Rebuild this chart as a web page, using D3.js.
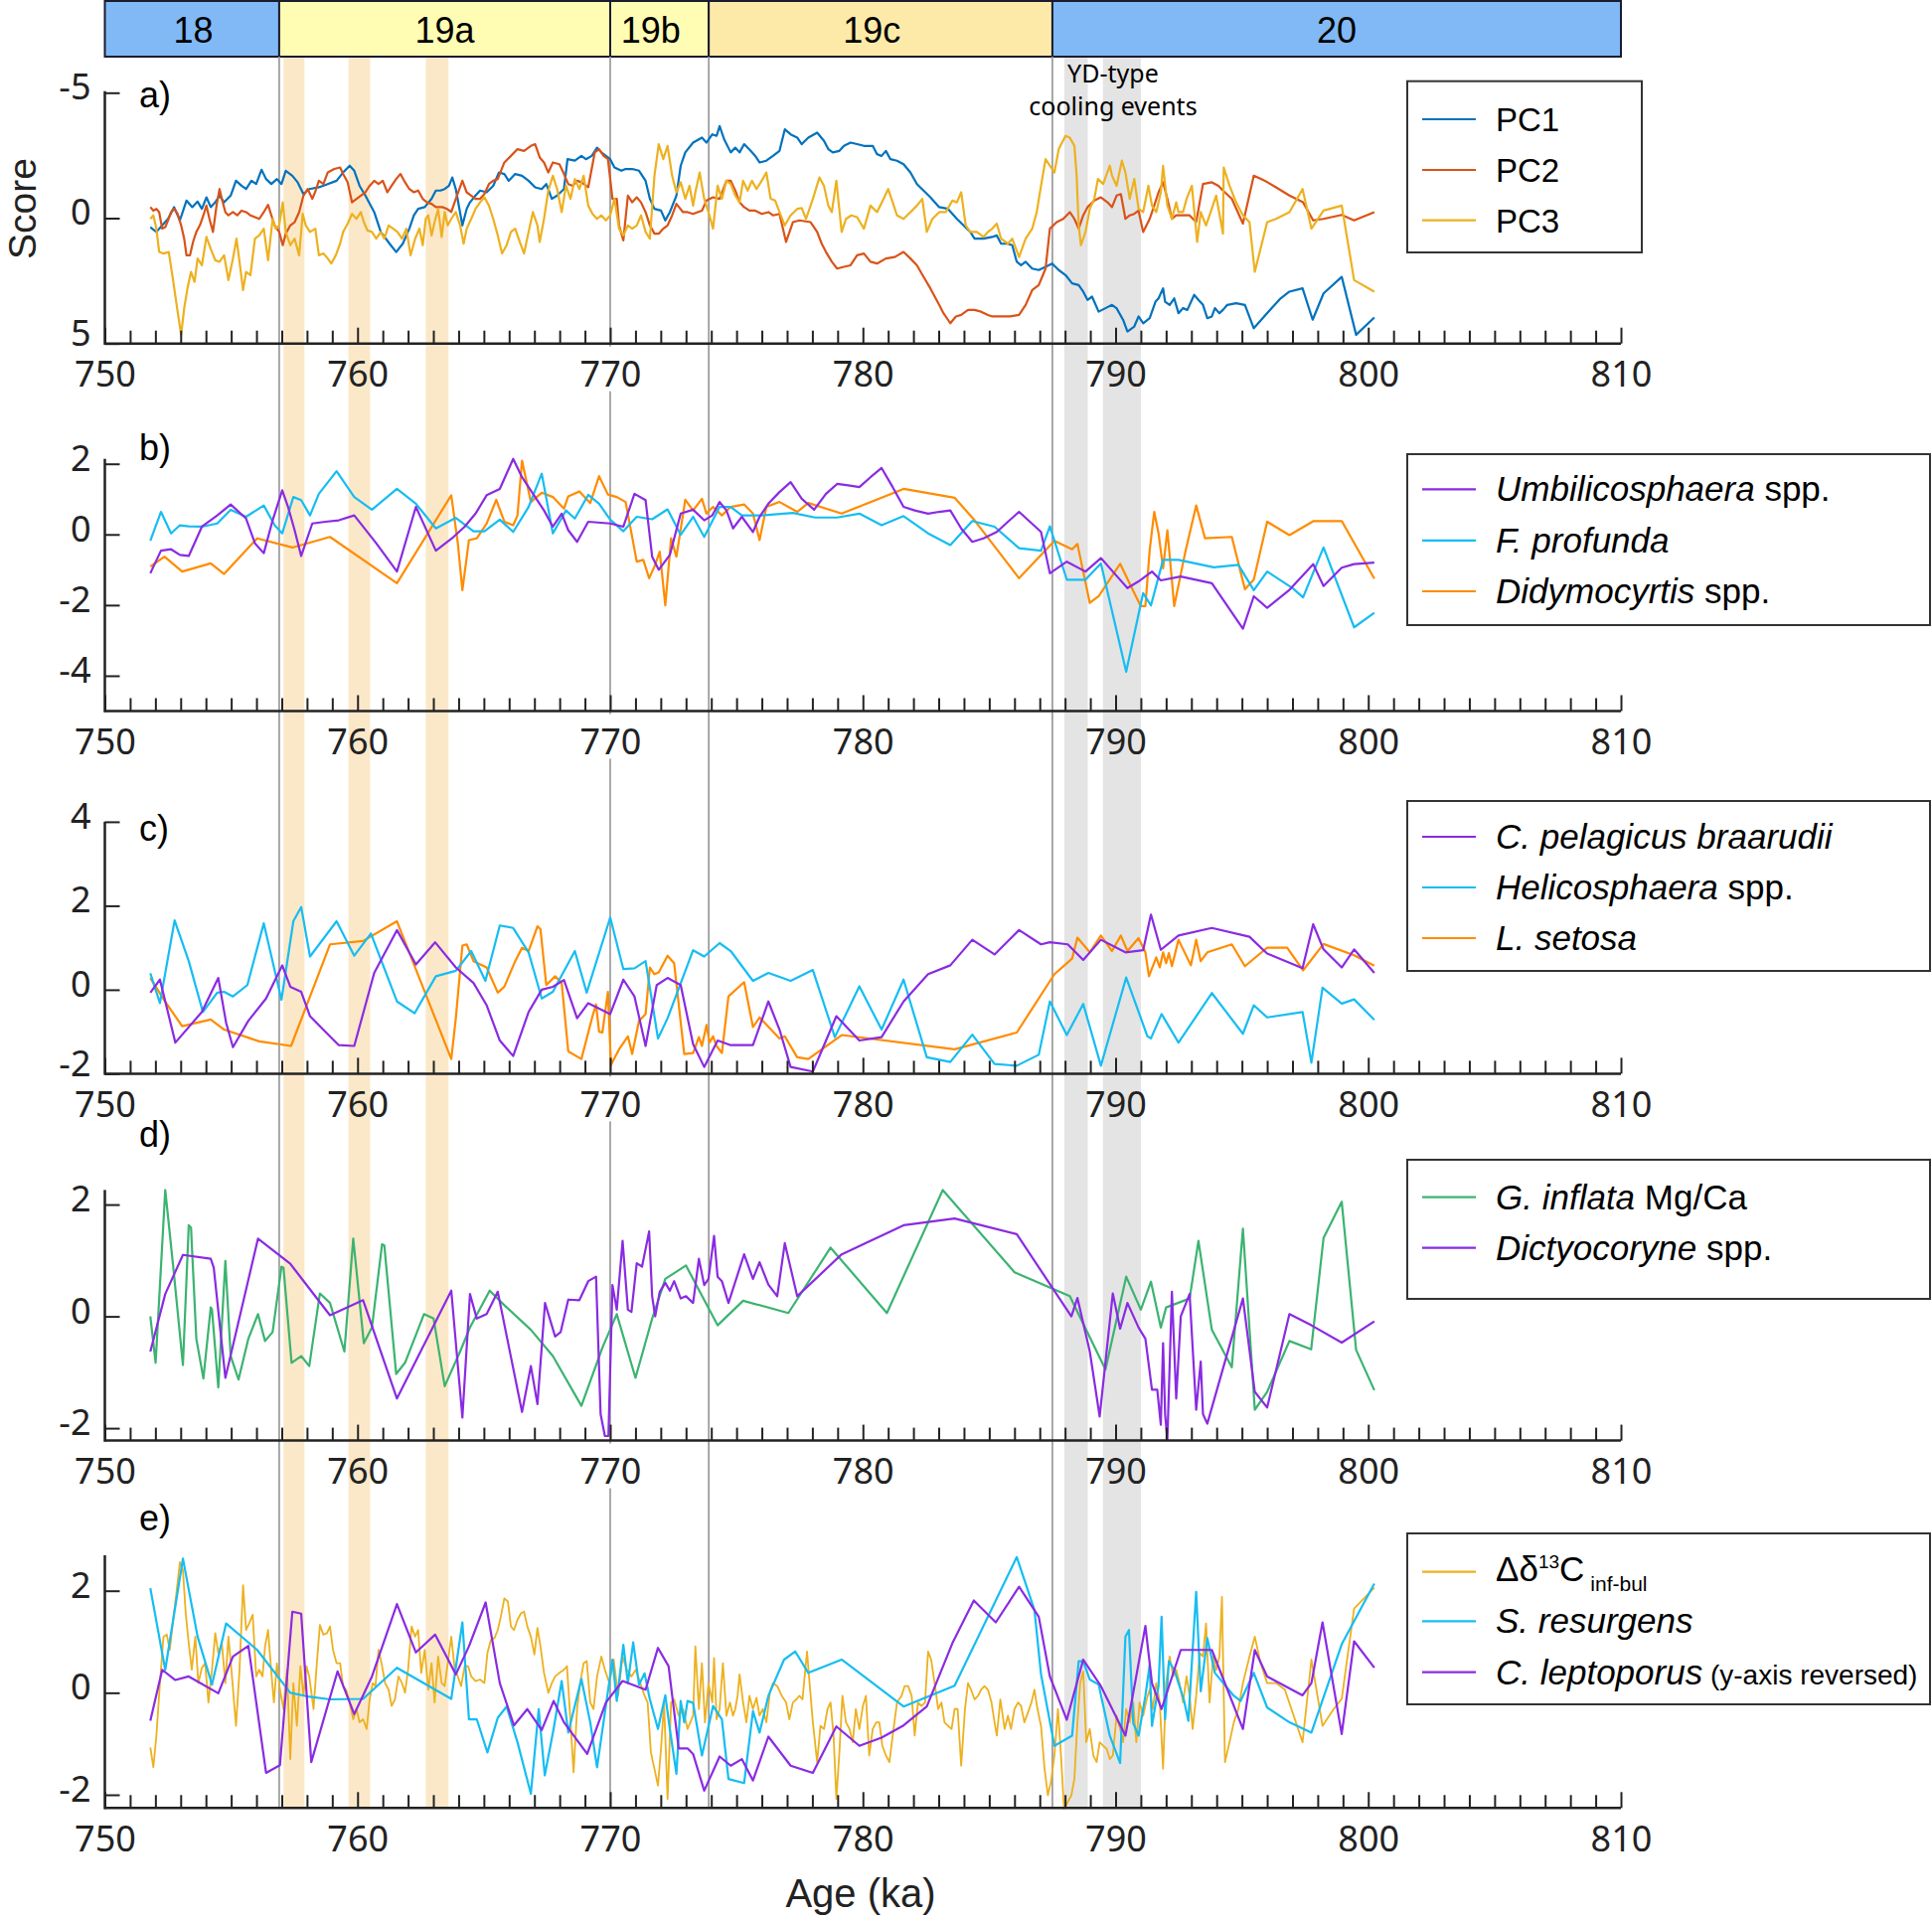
<!DOCTYPE html>
<html><head><meta charset="utf-8">
<script src="https://cdn.jsdelivr.net/npm/d3@7"></script>
<style>body{margin:0;background:#fff}svg{display:block}</style>
</head><body>
<svg id="chart" width="1944" height="1930"></svg>
<script>
// ---------------- DATA ----------------
const stageNames = ["18","19a","19b","19c","20"];
const stageFrom = [750, 756.9, 770.0, 773.9, 787.5];
const stageTo = [756.9, 770.0, 773.9, 787.5, 810];
const stageTextAt = [753.5, 763.45, 771.6, 780.35, 798.75];
const boundaryAges = [756.9, 770.0, 773.9, 787.5];
const warmBands = [[757.07,757.9],[759.64,760.5],[762.7,763.6]];
const coolBands = [[787.97,788.9],[789.5,791.0]];
const xMajorTicks = [750,760,770,780,790,800,810];

const pc1 = [[751.80,0.36],[752.04,0.55],[752.27,0.29],[752.50,0.03],[752.74,-0.44],[752.97,0.09],[753.23,-0.70],[753.46,-0.44],[753.67,-0.66],[753.84,-0.37],[754.02,-0.83],[754.19,-0.44],[754.37,-0.63],[754.54,-0.90],[754.72,-0.63],[754.98,-0.90],[755.19,-1.49],[755.41,-1.29],[755.59,-1.16],[755.80,-1.49],[755.99,-1.36],[756.20,-1.93],[756.38,-1.56],[756.59,-1.36],[756.81,-1.56],[756.99,-1.36],[757.16,-1.89],[757.42,-1.69],[757.63,-1.43],[757.86,-0.96],[758.09,-1.16],[758.47,-1.23],[758.82,-1.36],[759.17,-1.49],[759.43,-1.82],[759.69,-2.09],[759.87,-1.89],[760.08,-1.29],[760.31,-0.90],[760.66,-0.24],[760.92,0.55],[761.27,1.02],[761.53,1.35],[761.79,1.02],[762.05,0.42],[762.23,-0.11],[762.40,-0.37],[762.66,-0.44],[762.93,-0.77],[763.10,-1.10],[763.28,-1.10],[763.45,-1.16],[763.62,-1.29],[763.75,-1.62],[763.89,-1.16],[764.15,0.29],[764.32,-0.37],[764.45,-0.63],[764.67,-0.90],[764.85,-1.10],[765.11,-1.03],[765.37,-1.29],[765.60,-1.82],[765.81,-1.76],[765.98,-1.49],[766.24,-1.76],[766.51,-1.69],[766.77,-1.49],[767.03,-1.23],[767.29,-1.16],[767.47,-1.36],[767.69,-0.77],[767.90,-0.90],[768.17,-1.16],[768.31,-2.35],[768.60,-2.29],[768.86,-2.48],[769.04,-2.35],[769.27,-2.48],[769.48,-2.81],[769.65,-2.62],[769.83,-2.48],[770.00,-2.35],[770.17,-2.02],[770.44,-1.89],[770.61,-1.96],[770.87,-1.96],[771.14,-1.89],[771.40,-1.49],[771.57,-0.77],[771.75,-0.37],[772.01,-0.30],[772.18,0.09],[772.36,-0.24],[772.62,-0.90],[772.79,-2.09],[772.97,-2.62],[773.28,-3.01],[773.63,-3.21],[773.81,-3.01],[774.04,-3.34],[774.21,-3.28],[774.33,-3.67],[774.51,-3.14],[774.77,-2.62],[774.95,-2.81],[775.12,-2.62],[775.30,-2.95],[775.56,-2.68],[775.74,-2.48],[775.91,-2.22],[776.18,-2.29],[776.44,-2.48],[776.70,-2.68],[776.91,-3.54],[777.14,-3.34],[777.40,-3.21],[777.58,-2.95],[777.84,-3.21],[778.19,-3.41],[778.46,-3.08],[778.63,-2.75],[778.81,-2.62],[779.07,-2.68],[779.25,-2.88],[779.51,-3.01],[779.77,-2.95],[780.04,-2.88],[780.39,-2.88],[780.56,-2.55],[780.74,-2.48],[780.91,-2.68],[781.09,-2.35],[781.35,-2.29],[781.61,-2.15],[781.88,-1.82],[782.14,-1.36],[782.40,-1.10],[782.67,-0.83],[783.02,-0.44],[783.37,-0.37],[783.72,0.03],[783.98,0.29],[784.25,0.55],[784.42,0.82],[784.77,0.82],[785.12,0.75],[785.30,0.69],[785.47,1.02],[785.74,1.02],[785.91,1.08],[786.09,1.74],[786.26,1.88],[786.44,1.74],[786.70,2.01],[786.96,2.07],[787.23,1.94],[787.49,1.81],[787.75,2.07],[788.02,2.27],[788.28,2.60],[788.54,2.67],[788.72,2.93],[788.89,3.26],[789.07,3.13],[789.33,3.73],[789.60,3.59],[789.86,3.46],[790.04,3.59],[790.30,4.06],[790.47,4.52],[790.74,4.32],[790.91,3.92],[791.09,4.19],[791.35,3.99],[791.58,3.33],[791.70,3.20],[791.88,2.80],[791.96,3.33],[792.14,3.46],[792.32,3.20],[792.49,3.79],[792.67,3.59],[792.84,3.66],[793.11,3.06],[793.28,3.26],[793.46,3.46],[793.63,3.99],[793.81,3.92],[793.93,3.59],[794.11,3.79],[794.25,3.66],[794.42,3.46],[794.77,3.39],[795.12,3.46],[795.47,4.39],[795.82,3.99],[796.18,3.59],[796.53,3.20],[796.88,2.93],[797.40,2.80],[797.80,4.05],[798.23,3.00],[798.95,2.34],[799.52,4.65],[800.24,3.96]];

const pc2 = [[751.80,-0.44],[751.92,-0.30],[752.04,-0.37],[752.15,-0.24],[752.27,0.42],[752.39,0.36],[752.50,0.09],[752.62,-0.24],[752.74,-0.37],[752.88,-0.17],[753.02,0.29],[753.14,0.82],[753.23,1.48],[753.37,1.48],[753.49,0.95],[753.62,0.55],[753.76,0.29],[753.90,-0.11],[754.02,-0.50],[754.14,0.03],[754.28,0.55],[754.42,-0.50],[754.54,-1.16],[754.63,-0.77],[754.77,-0.24],[754.89,-0.11],[755.07,-0.24],[755.24,-0.11],[755.41,-0.30],[755.59,-0.24],[755.76,-0.11],[755.94,-0.04],[756.11,0.03],[756.29,-0.24],[756.46,-0.53],[756.59,-0.11],[756.72,0.29],[756.90,0.55],[757.04,1.08],[757.16,0.62],[757.34,0.29],[757.51,0.16],[757.69,-0.24],[757.86,-0.90],[758.03,-1.16],[758.21,-0.77],[758.33,-1.06],[758.47,-1.49],[758.65,-1.36],[758.82,-1.82],[759.08,-1.96],[759.31,-2.02],[759.43,-1.76],[759.61,-1.43],[759.78,-0.63],[759.96,-0.77],[760.13,-0.90],[760.31,-1.03],[760.48,-1.29],[760.66,-1.49],[760.83,-1.36],[761.00,-1.49],[761.18,-1.03],[761.35,-1.29],[761.53,-1.56],[761.70,-1.76],[761.88,-1.43],[762.05,-1.16],[762.23,-1.03],[762.40,-1.10],[762.58,-0.77],[762.75,-0.63],[762.93,-0.57],[763.10,-0.44],[763.36,-0.44],[763.54,-0.37],[763.71,-0.24],[763.89,-0.77],[764.15,-1.49],[764.32,-1.03],[764.50,-0.90],[764.67,-0.77],[764.85,-0.77],[765.02,-0.96],[765.20,-1.36],[765.37,-1.49],[765.55,-1.56],[765.81,-2.22],[766.07,-2.48],[766.33,-2.75],[766.59,-2.68],[766.86,-2.88],[767.03,-2.95],[767.21,-2.42],[767.38,-2.22],[767.55,-1.82],[767.73,-2.22],[767.99,-2.15],[768.17,-1.76],[768.34,-1.36],[768.52,-1.29],[768.69,-1.49],[768.86,-1.43],[769.13,-1.23],[769.39,-2.62],[769.56,-2.75],[769.74,-2.48],[769.91,-2.35],[770.09,-0.77],[770.26,-0.77],[770.35,0.29],[770.52,0.89],[770.70,-0.90],[770.87,-0.63],[771.05,-0.83],[771.22,-0.63],[771.40,-0.24],[771.57,0.29],[771.75,0.62],[771.92,0.62],[772.10,0.42],[772.27,0.29],[772.45,-0.11],[772.62,-0.57],[772.88,-0.24],[773.06,-0.24],[773.28,-0.17],[773.46,-0.24],[773.63,-0.30],[773.81,-0.70],[774.07,-0.83],[774.33,-0.77],[774.60,-1.49],[774.77,-1.49],[774.95,-1.10],[775.12,-0.63],[775.30,-0.44],[775.51,-0.30],[775.74,-0.30],[776.00,-0.17],[776.26,-0.24],[776.44,-0.11],[776.70,-0.17],[776.96,0.95],[777.23,0.16],[777.49,0.09],[777.93,0.16],[778.19,0.55],[778.37,1.02],[778.54,1.35],[778.77,1.74],[778.98,2.01],[779.25,1.94],[779.51,1.88],[779.77,1.48],[780.04,1.41],[780.30,1.74],[780.56,1.81],[780.91,1.61],[781.26,1.55],[781.61,1.35],[781.88,1.61],[782.14,1.88],[782.40,2.34],[782.67,2.80],[783.02,3.46],[783.19,3.79],[783.46,4.19],[783.68,3.92],[783.89,3.86],[784.16,3.66],[784.42,3.66],[784.68,3.73],[784.95,3.86],[785.12,3.92],[785.47,3.92],[785.82,3.92],[786.18,3.86],[786.44,3.46],[786.70,2.87],[786.96,2.67],[787.23,2.01],[787.40,0.42],[787.67,0.16],[787.93,0.03],[788.19,-0.24],[788.37,0.03],[788.54,0.42],[788.72,-0.11],[788.89,-0.44],[789.16,-0.70],[789.42,-0.83],[789.68,-0.63],[789.86,-0.44],[790.04,-0.90],[790.21,-0.96],[790.39,0.03],[790.56,-0.11],[790.74,-0.17],[790.91,-0.30],[791.09,0.55],[791.35,0.03],[791.53,-0.50],[791.70,-1.03],[791.88,-1.43],[792.05,-0.77],[792.23,0.03],[792.40,-0.11],[792.67,-0.11],[792.93,-0.11],[793.19,0.16],[793.46,-1.36],[793.81,-1.43],[794.07,-1.29],[794.25,-1.10],[794.60,-0.77],[795.04,0.22],[795.47,-1.69],[795.91,-1.49],[796.35,-1.23],[796.88,-0.90],[797.42,-0.63],[797.82,0.09],[798.23,0.03],[798.95,-0.13],[799.44,0.09],[800.24,-0.24]];

const pc3 = [[751.80,0.03],[751.92,-0.11],[752.04,0.42],[752.15,1.35],[752.32,1.41],[752.53,1.35],[752.71,2.54],[752.88,3.73],[753.02,4.65],[753.14,3.59],[753.27,2.80],[753.41,2.14],[753.55,2.54],[753.67,1.61],[753.84,1.88],[754.02,0.75],[754.19,1.22],[754.37,1.68],[754.54,1.74],[754.72,1.48],[754.89,2.47],[755.07,1.61],[755.21,0.82],[755.33,1.74],[755.47,2.87],[755.59,2.14],[755.76,2.27],[755.94,0.82],[756.11,0.69],[756.29,0.42],[756.46,1.68],[756.64,0.03],[756.76,0.42],[756.90,0.29],[757.04,-0.63],[757.16,0.55],[757.34,1.08],[757.51,0.82],[757.69,1.48],[757.83,-0.17],[757.95,0.29],[758.12,0.55],[758.33,0.42],[758.47,1.48],[758.65,1.41],[758.82,1.61],[758.96,1.81],[759.14,1.48],[759.31,1.02],[759.43,0.55],[759.61,0.22],[759.78,-0.17],[759.96,0.03],[760.13,-0.24],[760.25,0.16],[760.39,0.49],[760.57,0.55],[760.74,0.82],[760.92,0.55],[761.06,0.82],[761.23,0.29],[761.41,0.42],[761.58,0.55],[761.76,0.82],[761.93,0.42],[762.10,1.48],[762.28,0.82],[762.45,0.42],[762.58,1.08],[762.70,0.03],[762.80,-0.11],[762.93,0.69],[763.05,0.16],[763.19,-0.37],[763.33,0.75],[763.45,-0.24],[763.57,0.29],[763.71,0.03],[763.89,-0.24],[764.06,0.29],[764.20,1.02],[764.32,0.42],[764.50,0.03],[764.67,-0.37],[764.85,-0.63],[765.02,-0.83],[765.20,-0.50],[765.37,0.03],[765.55,0.69],[765.72,1.41],[765.90,1.08],[766.07,0.55],[766.24,0.42],[766.42,0.95],[766.59,1.41],[766.77,0.55],[766.94,-0.24],[767.12,0.29],[767.21,0.95],[767.38,0.03],[767.55,-1.10],[767.73,-1.69],[767.90,-1.16],[768.08,-0.24],[768.25,-1.29],[768.43,-0.77],[768.60,-1.56],[768.78,-1.16],[768.95,-1.69],[769.13,-0.50],[769.30,-0.17],[769.48,0.03],[769.65,-0.11],[769.83,0.09],[770.00,-0.11],[770.17,-0.77],[770.35,0.42],[770.52,0.69],[770.70,0.29],[770.87,0.42],[771.05,0.29],[771.22,-0.11],[771.40,0.55],[771.57,0.82],[771.75,-1.69],[771.92,-2.95],[772.10,-2.35],[772.27,-2.88],[772.45,-1.69],[772.62,-1.03],[772.79,-1.43],[772.97,-0.77],[773.14,-1.29],[773.28,-0.50],[773.37,-1.03],[773.54,-1.82],[773.72,-0.77],[773.89,-0.24],[774.07,0.42],[774.25,-1.29],[774.42,-0.77],[774.60,-1.49],[774.77,-1.36],[774.95,-0.90],[775.12,-0.63],[775.26,-1.49],[775.44,-1.10],[775.61,-1.49],[775.79,-1.16],[775.96,-1.43],[776.18,-1.82],[776.35,-0.77],[776.53,-0.70],[776.70,-0.24],[776.91,0.29],[777.14,-0.11],[777.40,-0.37],[777.58,-0.40],[777.75,0.03],[778.02,-0.77],[778.28,-1.62],[778.46,-1.29],[778.63,-0.50],[778.77,-0.24],[778.95,-1.49],[779.16,0.55],[779.33,0.03],[779.54,-0.11],[779.77,-0.04],[780.04,0.42],[780.30,-0.50],[780.56,-0.24],[780.82,-0.77],[781.00,-1.16],[781.18,-0.63],[781.35,-0.11],[781.61,0.03],[781.88,-0.24],[782.14,-0.50],[782.35,-0.77],[782.53,0.55],[782.75,0.03],[783.02,-0.24],[783.28,-0.24],[783.54,-0.70],[783.72,-0.63],[783.89,-1.03],[784.07,0.29],[784.25,0.55],[784.51,0.55],[784.77,0.75],[784.95,0.55],[785.12,0.42],[785.30,0.22],[785.47,0.82],[785.74,1.02],[785.91,0.82],[786.18,1.55],[786.44,0.82],[786.70,0.42],[786.88,-0.24],[787.05,-1.29],[787.23,-2.35],[787.40,-2.09],[787.58,-1.82],[787.75,-2.75],[788.02,-3.28],[788.19,-3.21],[788.37,-2.88],[788.46,-1.69],[788.54,0.29],[788.63,1.08],[788.81,0.55],[788.98,-0.37],[789.16,-0.77],[789.30,-1.56],[789.51,-1.36],[789.77,-2.09],[789.86,-1.69],[790.04,-1.29],[790.25,-2.29],[790.39,-1.82],[790.56,-0.77],[790.74,-1.56],[790.91,-0.37],[791.09,-0.24],[791.30,-1.29],[791.44,-0.50],[791.61,-0.24],[791.79,-1.03],[791.88,-2.09],[792.05,-0.50],[792.23,0.03],[792.40,-0.63],[792.49,-0.24],[792.67,-0.24],[792.81,-0.77],[793.02,-1.29],[793.23,0.95],[793.37,-0.24],[793.58,0.29],[793.72,-0.11],[793.98,-0.90],[794.25,0.62],[794.28,-2.02],[794.51,-1.29],[794.77,-0.63],[795.04,-0.11],[795.30,0.16],[795.51,2.14],[796.00,0.16],[796.35,0.03],[796.88,-0.24],[797.40,-1.16],[797.75,0.42],[798.23,-0.30],[798.95,-0.50],[799.44,2.47],[800.24,2.93]];

const umbilicosphaera = [[751.80,-1.10],[752.22,-0.46],[752.62,-0.42],[752.97,-0.58],[753.32,-0.61],[753.84,0.22],[754.45,0.54],[754.98,0.85],[755.59,0.45],[755.94,-0.25],[756.29,-0.53],[756.64,0.40],[757.02,1.25],[757.25,0.78],[757.51,0.12],[757.77,-0.61],[758.21,0.31],[758.73,0.36],[759.26,0.40],[759.87,0.54],[760.74,-0.25],[761.56,-1.05],[762.31,0.78],[763.10,-0.46],[763.80,-0.07],[764.24,0.22],[764.67,0.59],[765.11,1.11],[765.63,1.29],[766.16,2.14],[766.51,1.62],[767.03,1.06],[767.38,0.68],[767.73,0.22],[768.08,0.59],[768.34,0.12],[768.69,-0.21],[769.13,0.36],[770.00,0.31],[770.52,0.22],[770.96,1.15],[771.40,0.97],[771.66,-0.63],[771.92,-1.00],[772.36,-0.58],[772.79,0.59],[773.28,0.70],[773.72,0.40],[774.04,0.54],[774.33,0.92],[774.60,0.68],[774.86,0.17],[775.21,0.50],[775.65,0.07],[775.91,0.50],[776.26,0.87],[776.70,1.20],[777.14,1.48],[777.58,1.01],[778.07,0.70],[778.54,1.15],[778.98,1.43],[779.42,1.39],[779.86,1.34],[780.30,1.62],[780.74,1.88],[781.18,1.34],[781.61,0.78],[782.05,0.68],[782.58,0.59],[783.02,0.64],[783.46,0.68],[783.89,0.17],[784.33,-0.21],[784.77,-0.11],[785.30,0.07],[785.74,0.36],[786.18,0.64],[786.61,0.36],[787.05,0.07],[787.40,-1.10],[788.07,-0.77],[788.81,-1.05],[789.42,-0.67],[789.95,-1.10],[790.47,-1.52],[790.91,-1.33],[791.44,-1.05],[791.79,-1.30],[792.58,-1.19],[793.81,-1.38],[795.04,-2.67],[795.47,-1.75],[796.00,-2.08],[796.88,-1.57],[797.42,-1.15],[797.82,-0.84],[798.23,-1.46],[798.95,-0.94],[799.44,-0.84],[800.24,-0.80]];

const fProfunda = [[751.80,-0.18],[752.22,0.64],[752.62,0.03],[752.97,0.26],[753.32,0.23],[753.84,0.22],[754.45,0.31],[754.98,0.70],[755.59,0.50],[756.29,0.82],[756.72,0.26],[757.02,0.03],[757.46,1.06],[757.77,0.97],[758.12,0.54],[758.47,1.15],[759.17,1.79],[759.87,1.06],[760.57,0.70],[761.56,1.29],[762.31,0.87],[763.10,0.17],[763.89,0.47],[764.59,0.09],[765.02,0.09],[765.63,0.42],[766.16,0.07],[766.77,0.78],[767.29,1.72],[767.73,0.03],[768.25,0.68],[768.60,0.45],[769.13,1.12],[769.56,0.87],[770.00,0.42],[770.52,0.09],[771.05,0.50],[771.66,0.43],[772.27,0.71],[772.79,-0.01],[773.28,0.50],[773.72,-0.07],[774.33,0.78],[774.77,0.78],[775.21,0.54],[776.00,0.54],[777.23,0.61],[778.11,0.48],[778.98,0.48],[779.86,0.59],[780.74,0.26],[781.61,0.52],[782.58,0.03],[783.46,-0.30],[784.33,0.38],[785.21,0.22],[786.18,-0.39],[787.05,-0.46],[787.40,0.23],[788.07,-1.28],[788.81,-1.28],[789.42,-0.82],[790.42,-3.89],[791.09,-1.66],[791.40,-2.01],[791.88,-0.72],[792.49,-0.72],[793.89,-0.93],[794.86,-0.86],[795.47,-1.58],[796.00,-1.05],[797.02,-1.53],[797.42,-1.78],[798.23,-0.37],[799.44,-2.63],[800.24,-2.22]];

const didymocyrtis = [[751.80,-0.91],[752.36,-0.63],[753.06,-1.05],[754.19,-0.82],[754.72,-1.12],[756.03,-0.11],[757.42,-0.37],[758.91,-0.07],[761.56,-1.38],[763.71,1.11],[763.97,-0.25],[764.15,-1.58],[764.41,-0.16],[764.72,-0.11],[765.11,0.31],[765.49,0.98],[765.81,0.36],[766.16,0.26],[766.33,0.54],[766.51,2.09],[766.86,0.92],[767.29,1.18],[767.73,1.06],[768.17,0.73],[768.34,1.08],[768.78,1.22],[769.21,0.89],[769.56,1.65],[769.91,1.13],[770.26,1.06],[770.61,0.92],[771.05,-0.77],[771.31,-0.72],[771.54,-1.24],[771.75,-0.91],[771.96,-0.49],[772.18,-2.01],[772.41,-0.11],[772.62,-0.63],[772.97,0.98],[773.28,0.68],[773.63,1.01],[773.81,0.59],[774.07,0.78],[774.42,0.54],[774.77,0.78],[775.30,0.85],[775.65,0.59],[775.91,-0.16],[776.18,0.78],[776.70,0.92],[777.40,0.64],[777.84,0.89],[779.16,0.59],[781.61,1.29],[783.63,1.04],[784.42,0.40],[786.18,-1.24],[787.58,-0.18],[788.28,-0.42],[788.49,-0.27],[788.98,-1.94],[789.33,-1.75],[790.18,-0.83],[790.74,-1.66],[791.00,-2.03],[791.18,-2.03],[791.35,-0.44],[791.53,0.64],[791.70,0.03],[791.88,-0.96],[792.05,0.12],[792.32,-2.03],[792.75,-0.53],[793.19,0.82],[793.54,-0.11],[794.60,-0.07],[795.12,-1.55],[795.47,-1.28],[796.00,0.36],[796.88,-0.02],[797.84,0.38],[798.95,0.38],[800.24,-1.25]];

const cPelagicus = [[751.80,-0.07],[752.18,0.24],[752.79,-1.26],[753.84,-0.53],[754.49,0.28],[754.80,-0.79],[755.07,-1.37],[755.68,-0.74],[756.38,-0.21],[757.02,0.58],[757.34,0.07],[757.77,-0.05],[758.12,-0.63],[758.73,-1.00],[759.26,-1.32],[759.87,-1.34],[760.66,0.40],[761.56,1.42],[762.31,0.60],[763.07,1.13],[763.89,0.53],[764.59,0.16],[765.11,-0.37],[765.63,-1.21],[766.16,-1.58],[766.77,-0.53],[767.29,0.00],[767.73,0.07],[768.17,0.23],[768.69,-0.68],[769.13,-0.32],[770.00,-0.58],[770.52,0.24],[770.96,-0.16],[771.40,-1.34],[771.84,0.11],[772.27,0.28],[772.79,0.11],[773.28,-1.30],[773.72,-1.84],[774.25,-1.21],[774.77,-1.32],[775.65,-1.32],[776.26,-0.28],[776.70,-0.95],[777.14,-1.84],[778.02,-1.95],[778.95,-0.63],[779.86,-1.21],[780.74,-1.13],[781.61,-0.28],[782.58,0.37],[783.46,0.58],[784.33,1.19],[785.21,0.84],[786.18,1.42],[787.05,1.08],[787.40,1.13],[788.11,1.08],[788.72,0.71],[789.42,1.19],[790.39,0.89],[791.09,0.94],[791.40,1.79],[791.79,0.95],[792.49,1.29],[793.81,1.47],[795.30,1.26],[796.00,0.86],[797.40,0.51],[797.82,1.56],[798.23,0.96],[798.95,0.53],[799.44,0.96],[800.24,0.40]];

const helicosphaera = [[751.80,0.39],[752.18,-0.32],[752.76,1.65],[753.32,0.68],[753.88,-0.53],[754.45,-0.07],[754.72,-0.05],[755.07,-0.16],[755.64,0.11],[756.29,1.58],[756.99,-0.24],[757.46,1.63],[757.77,1.97],[758.12,0.79],[759.17,1.63],[759.87,0.81],[760.53,1.34],[761.56,-0.28],[762.26,-0.56],[763.10,0.32],[763.89,0.45],[764.50,0.92],[765.06,0.21],[765.63,1.53],[766.16,1.47],[766.77,0.89],[767.29,-0.21],[767.73,-0.05],[768.60,0.92],[769.07,-0.07],[770.00,1.72],[770.52,0.49],[770.96,0.51],[771.40,0.68],[771.89,-1.16],[772.27,-0.68],[773.28,0.94],[773.72,0.79],[774.33,1.11],[774.77,0.92],[775.65,0.21],[776.26,0.40],[777.14,0.21],[778.02,0.47],[778.89,-1.13],[779.86,0.08],[780.74,-0.95],[781.61,0.24],[782.53,-1.61],[783.46,-1.72],[784.33,-1.07],[785.21,-1.77],[786.09,-1.81],[786.96,-1.55],[787.40,-0.28],[788.07,-1.08],[788.72,-0.34],[789.42,-1.81],[790.42,0.29],[791.26,-1.11],[791.40,-1.16],[791.82,-0.58],[792.49,-1.26],[793.81,-0.08],[795.04,-1.05],[795.47,-0.37],[796.00,-0.66],[797.40,-0.53],[797.75,-1.74],[798.19,0.05],[798.95,-0.33],[799.44,-0.23],[800.24,-0.72]];

const lSetosa = [[751.80,0.28],[752.36,-0.26],[753.06,-0.87],[754.19,-0.71],[754.72,-0.95],[756.11,-1.23],[757.37,-1.34],[758.91,1.08],[760.22,1.16],[761.56,1.63],[763.71,-1.65],[763.89,-0.68],[764.15,1.05],[764.32,1.08],[764.59,0.68],[765.11,0.53],[765.55,-0.07],[765.81,0.07],[766.24,0.68],[766.51,1.00],[766.77,0.92],[767.12,1.51],[767.24,1.44],[767.47,0.11],[767.82,0.32],[768.08,0.16],[768.34,-1.47],[768.86,-1.65],[769.30,-0.63],[769.44,-0.35],[769.56,-1.00],[769.69,-1.02],[769.91,-0.05],[770.03,-1.79],[770.35,-1.42],[770.70,-1.11],[770.87,-1.53],[771.14,-0.74],[771.40,-0.58],[771.57,0.53],[771.75,0.37],[771.92,0.41],[772.27,0.81],[772.53,0.63],[772.93,-1.53],[773.28,-1.51],[773.51,-1.13],[773.63,-1.34],[773.81,-0.84],[773.93,-1.26],[774.07,-1.11],[774.21,-1.34],[774.42,-1.51],[774.68,-0.16],[775.30,0.18],[775.65,-0.89],[775.91,-0.66],[776.70,-1.16],[776.91,-1.11],[777.40,-1.61],[777.84,-1.65],[779.16,-1.08],[783.63,-1.42],[786.09,-1.02],[787.58,0.37],[788.28,0.74],[788.49,1.24],[788.98,0.89],[789.42,1.29],[789.86,0.92],[790.21,1.29],[790.47,0.92],[790.91,1.23],[791.18,0.89],[791.32,0.32],[791.61,0.77],[791.75,0.53],[791.88,0.89],[792.00,0.63],[792.11,0.87],[792.23,0.56],[792.49,1.19],[792.98,0.58],[793.19,1.19],[793.37,0.68],[793.63,0.89],[794.60,1.08],[795.12,0.56],[796.00,1.00],[796.79,1.00],[797.42,0.46],[798.23,1.09],[799.44,0.82],[800.24,0.57]];

const gInflataMgCa = [[751.80,0.00],[752.01,-0.83],[752.39,2.26],[752.71,0.87],[753.09,-0.87],[753.32,1.63],[753.41,1.59],[753.62,-0.40],[753.90,-1.11],[754.19,0.16],[754.24,0.12],[754.49,-1.27],[754.77,0.99],[754.98,-0.71],[755.29,-1.13],[755.68,-0.40],[756.06,0.04],[756.34,-0.44],[756.64,-0.28],[756.99,0.89],[757.07,0.87],[757.39,-0.83],[757.77,-0.71],[758.09,-0.89],[758.51,0.41],[758.91,0.24],[759.48,-0.63],[759.83,1.39],[760.25,-0.48],[760.57,-0.20],[760.97,1.29],[761.06,1.27],[761.53,-1.03],[761.88,-0.83],[762.63,0.04],[763.01,-0.04],[763.45,-1.25],[764.06,-0.63],[764.45,-0.20],[765.23,0.46],[765.81,0.20],[766.86,-0.24],[767.73,-0.71],[768.86,-1.60],[769.69,-0.56],[770.26,0.04],[771.00,-1.10],[771.66,-0.04],[772.18,0.67],[773.00,0.91],[773.28,0.67],[774.25,-0.16],[775.26,0.28],[777.05,0.06],[778.72,1.23],[780.95,0.06],[783.16,2.26],[786.00,0.79],[788.19,0.36],[789.60,-0.95],[790.42,0.71],[791.00,0.12],[791.40,0.62],[791.79,-0.20],[792.00,0.16],[792.93,0.32],[793.28,1.35],[793.81,-0.24],[794.60,-0.91],[795.04,1.57],[795.51,-1.67],[796.00,-1.35],[796.88,-0.44],[797.74,-0.59],[798.23,1.40],[798.95,2.05],[799.52,-0.60],[800.24,-1.32]];

const dictyocoryne = [[751.80,-0.63],[752.39,0.40],[753.09,1.10],[754.19,1.03],[754.31,0.87],[754.77,-1.10],[756.06,1.39],[757.34,0.94],[758.91,0.02],[760.22,0.29],[761.56,-1.47],[763.71,0.46],[764.15,-1.81],[764.45,0.40],[764.72,-0.04],[765.11,0.04],[765.55,0.44],[766.51,-1.71],[766.86,-0.89],[767.12,-1.57],[767.42,0.24],[767.82,-0.36],[768.04,-0.28],[768.34,0.30],[768.78,0.29],[769.13,0.63],[769.44,0.71],[769.62,-1.75],[769.79,-2.14],[769.93,-2.14],[770.09,0.56],[770.26,0.12],[770.49,1.35],[770.70,0.12],[770.84,0.08],[771.05,0.95],[771.26,0.89],[771.54,1.52],[771.66,0.36],[771.78,0.00],[771.96,0.44],[772.18,0.60],[772.36,0.46],[772.53,0.63],[772.79,0.32],[773.00,0.36],[773.28,0.24],[773.51,1.03],[773.72,0.56],[773.89,0.67],[774.11,1.44],[774.25,0.71],[774.42,0.63],[774.68,0.24],[775.30,1.11],[775.65,0.67],[775.91,0.97],[776.26,0.57],[776.61,0.36],[776.91,1.31],[777.40,0.36],[779.16,1.11],[781.61,1.63],[783.63,1.75],[786.09,1.47],[788.25,0.00],[788.49,0.33],[788.98,-0.63],[789.37,-1.79],[789.89,0.41],[790.18,-0.22],[790.47,0.24],[790.91,-0.20],[791.18,-0.40],[791.44,-1.31],[791.65,-1.31],[791.79,-1.94],[791.88,-0.48],[791.96,-1.75],[792.05,-2.20],[792.23,0.44],[792.40,-1.47],[792.58,0.00],[792.93,0.40],[793.19,-1.67],[793.37,-0.81],[793.46,-1.75],[793.63,-1.92],[795.04,0.32],[795.51,-1.35],[796.00,-1.63],[796.88,0.04],[797.75,-0.16],[798.95,-0.47],[800.24,-0.09]];

const d13cInfBul = [[751.80,-1.07],[751.92,-1.46],[752.04,-0.84],[752.18,0.19],[752.32,1.10],[752.45,1.14],[752.57,0.84],[752.71,1.46],[752.83,1.95],[752.97,2.56],[753.09,2.40],[753.20,1.56],[753.32,0.97],[753.44,0.45],[753.58,1.10],[753.70,0.19],[753.84,0.49],[753.97,0.58],[754.10,-0.19],[754.24,0.45],[754.37,1.17],[754.49,0.78],[754.63,0.97],[754.77,0.19],[754.89,1.10],[755.01,0.45],[755.19,-0.65],[755.33,0.45],[755.47,2.11],[755.59,1.23],[755.71,1.36],[755.85,1.53],[755.99,0.32],[756.11,0.45],[756.24,0.32],[756.34,0.91],[756.46,1.23],[756.59,0.39],[756.69,-0.19],[756.81,0.58],[756.93,0.06],[757.07,-0.32],[757.21,0.45],[757.34,-1.30],[757.46,0.19],[757.60,-0.65],[757.74,0.52],[757.86,-0.06],[757.98,0.52],[758.09,0.32],[758.26,-0.32],[758.38,0.52],[758.51,1.33],[758.65,1.14],[758.79,1.17],[758.91,1.30],[759.03,0.84],[759.17,0.58],[759.31,0.58],[759.43,0.13],[759.55,0.06],[759.69,-0.19],[759.83,-0.52],[759.96,-0.32],[760.08,-0.58],[760.22,-0.52],[760.36,-0.71],[760.48,-0.13],[760.60,0.19],[760.71,0.13],[760.83,0.84],[760.95,0.58],[761.09,0.19],[761.23,0.06],[761.35,-0.26],[761.48,-0.13],[761.62,0.32],[761.76,0.19],[761.88,0.00],[762.00,0.45],[762.14,1.30],[762.28,1.10],[762.40,1.23],[762.52,0.39],[762.66,0.84],[762.80,0.06],[762.93,0.58],[763.05,-0.19],[763.19,0.71],[763.33,0.19],[763.45,0.13],[763.57,0.58],[763.71,1.10],[763.85,0.45],[763.97,0.32],[764.10,0.13],[764.24,0.52],[764.38,0.52],[764.50,0.32],[764.67,0.23],[764.85,0.26],[765.02,0.19],[765.14,0.78],[765.28,1.04],[765.42,1.07],[765.55,1.23],[765.67,1.49],[765.81,1.85],[765.95,1.79],[766.07,1.30],[766.19,1.23],[766.33,1.43],[766.47,1.56],[766.59,1.59],[766.72,1.30],[766.86,1.10],[767.00,0.75],[767.12,1.27],[767.24,0.91],[767.38,0.39],[767.55,0.00],[767.69,0.19],[767.82,0.32],[767.99,0.39],[768.17,0.45],[768.29,0.52],[768.43,-0.58],[768.55,-1.56],[768.69,-0.32],[768.81,0.19],[768.95,0.58],[769.07,0.62],[769.21,-0.19],[769.34,-0.32],[769.48,0.32],[769.65,0.71],[769.79,0.45],[769.97,0.19],[770.14,0.65],[770.31,-0.06],[770.49,0.71],[770.66,0.45],[770.84,0.32],[771.01,0.45],[771.19,0.19],[771.36,-0.06],[771.48,-0.19],[771.61,-1.17],[771.75,-1.49],[771.89,-1.82],[772.01,-1.10],[772.13,-0.19],[772.27,-2.08],[772.41,-0.19],[772.53,-0.13],[772.71,-0.45],[772.88,-0.32],[773.06,-0.71],[773.28,-0.45],[773.37,0.91],[773.51,-0.32],[773.63,0.58],[773.75,-0.58],[773.89,0.19],[774.04,-0.19],[774.11,0.68],[774.21,-0.52],[774.33,-0.32],[774.46,0.58],[774.60,-0.45],[774.74,-0.19],[774.86,-0.45],[774.95,-0.32],[775.04,-0.06],[775.12,0.36],[775.26,-0.19],[775.39,-0.58],[775.51,-0.06],[775.65,-0.32],[775.79,-0.10],[775.91,-0.45],[776.04,-0.32],[776.18,-0.58],[776.32,0.00],[776.44,0.19],[776.61,0.13],[776.79,-0.06],[776.96,-0.19],[777.09,-0.52],[777.23,-0.19],[777.37,-0.13],[777.49,-0.06],[777.61,-0.13],[777.72,0.45],[777.79,0.81],[777.89,0.19],[778.02,-0.58],[778.19,-1.36],[778.32,-0.65],[778.46,-0.71],[778.60,-0.32],[778.72,-0.19],[778.84,-0.84],[778.95,-2.08],[779.07,-1.17],[779.19,-0.06],[779.33,-0.58],[779.47,-0.71],[779.60,-0.97],[779.72,-0.32],[779.86,-0.71],[780.00,-0.26],[780.12,-0.06],[780.25,-1.23],[780.39,-0.71],[780.53,-0.58],[780.65,-0.58],[780.77,-1.04],[780.91,-1.23],[781.05,-1.36],[781.18,-0.84],[781.35,-0.19],[781.53,-0.06],[781.65,0.13],[781.79,0.13],[781.93,-0.06],[782.05,-0.84],[782.18,-0.19],[782.32,-0.26],[782.46,-0.19],[782.58,0.81],[782.70,0.65],[782.84,0.19],[782.98,-0.32],[783.11,-0.19],[783.23,-0.58],[783.37,-0.65],[783.51,-0.71],[783.63,-0.32],[783.75,-0.32],[783.89,-1.43],[784.04,-0.32],[784.16,0.19],[784.28,0.06],[784.42,-0.13],[784.56,-0.06],[784.68,0.06],[784.81,0.13],[784.95,0.06],[785.09,-0.19],[785.21,-0.58],[785.30,-0.84],[785.44,-0.13],[785.61,-0.71],[785.74,-0.45],[785.86,-0.71],[786.00,-0.32],[786.14,-0.19],[786.26,-0.26],[786.39,-0.58],[786.53,-0.39],[786.67,-0.19],[786.79,0.06],[786.91,-0.32],[787.05,-0.65],[787.19,-1.49],[787.32,-2.01],[787.44,-1.75],[787.58,-1.23],[787.72,-0.32],[787.84,-1.23],[787.96,-2.27],[788.11,-2.14],[788.25,-2.01],[788.37,-1.69],[788.49,-0.58],[788.60,0.19],[788.72,0.42],[788.84,-0.97],[788.98,-0.71],[789.12,-1.23],[789.25,-1.36],[789.37,-0.97],[789.51,-1.04],[789.65,-1.10],[789.77,-1.30],[789.89,-1.23],[790.04,-0.45],[790.18,-0.71],[790.30,-0.97],[790.42,-0.32],[790.56,-0.58],[790.70,-0.19],[790.82,-0.97],[790.95,-0.19],[791.09,-0.45],[791.23,-0.13],[791.35,0.06],[791.47,-0.32],[791.61,0.19],[791.75,-0.19],[791.88,-1.49],[792.00,0.19],[792.14,0.71],[792.28,0.32],[792.40,0.45],[792.53,0.19],[792.67,-0.19],[792.81,0.32],[792.93,-0.06],[793.05,-0.71],[793.19,-0.06],[793.33,0.78],[793.46,0.71],[793.58,1.36],[793.72,-0.19],[793.86,0.71],[793.98,0.45],[794.11,0.71],[794.21,1.88],[794.33,-1.36],[794.51,-0.97],[794.68,-0.58],[794.86,-0.32],[795.04,0.19],[795.30,0.71],[795.51,1.10],[795.74,0.58],[796.00,0.19],[796.35,0.19],[796.70,0.06],[797.05,-0.45],[797.40,-0.97],[797.75,0.65],[798.19,-0.65],[798.63,-0.32],[798.95,-0.12],[799.44,1.65],[800.24,2.06]];

const sResurgens = [[751.80,2.05],[752.39,0.45],[753.09,2.63],[753.67,1.10],[754.24,0.16],[754.80,1.36],[756.03,0.84],[757.34,0.00],[758.12,-0.08],[758.91,-0.13],[760.22,-0.12],[761.56,0.49],[763.71,-0.12],[764.15,1.38],[764.41,-0.52],[764.72,-0.52],[765.14,-1.17],[765.55,-0.49],[765.90,-0.27],[766.33,-0.97],[766.86,-1.98],[767.17,-0.32],[767.41,-1.62],[767.76,-0.71],[768.08,0.23],[768.34,-0.78],[768.86,0.27],[769.21,-0.58],[769.48,-1.46],[770.09,0.65],[770.26,-0.16],[770.52,0.94],[770.70,0.19],[770.91,0.99],[771.14,0.16],[771.36,0.38],[771.57,-0.13],[771.89,-0.71],[772.18,-0.05],[772.36,-0.71],[772.62,-1.59],[772.79,-0.16],[772.93,-0.58],[773.06,-0.16],[773.28,-0.20],[773.63,-1.23],[774.07,-0.26],[774.42,-0.52],[774.68,-1.69],[775.30,-1.77],[775.65,-0.36],[775.91,-0.78],[776.26,-0.06],[776.88,0.65],[777.32,0.81],[777.84,0.39],[779.16,0.65],[781.61,-0.27],[783.63,0.14],[786.09,2.66],[786.79,1.62],[787.05,0.36],[787.58,-1.04],[788.28,-0.84],[788.54,0.62],[788.72,0.62],[788.98,0.26],[789.33,0.16],[789.77,-0.84],[790.18,-1.38],[790.39,1.10],[790.53,1.23],[790.70,-0.60],[790.91,-0.84],[791.18,-0.06],[791.35,0.55],[791.44,-0.65],[791.70,0.13],[791.82,1.49],[791.96,-0.52],[792.11,0.62],[792.32,0.45],[792.49,0.19],[792.70,-0.13],[792.88,-0.55],[793.19,1.98],[793.37,0.03],[793.63,1.07],[793.93,0.39],[794.68,-0.06],[794.95,-0.16],[795.47,0.39],[796.00,-0.29],[796.88,-0.58],[797.75,-0.78],[798.95,0.95],[800.24,2.14]];

const cLeptoporus = [[751.80,-0.55],[752.27,0.45],[752.79,0.25],[753.32,0.32],[754.49,-0.01],[755.07,0.71],[755.68,0.92],[756.38,-1.57],[756.93,-1.42],[757.42,1.59],[757.77,1.55],[758.17,-1.36],[759.21,0.42],[759.87,-0.42],[760.57,0.32],[761.56,1.74],[762.31,0.79],[763.07,1.14],[763.89,0.36],[764.41,0.91],[765.07,1.77],[765.63,0.19],[766.19,-0.64],[766.72,-0.32],[767.29,-0.73],[767.76,-0.16],[768.17,-0.58],[769.09,-1.20],[769.83,-0.19],[770.49,0.23],[771.40,0.06],[771.89,0.88],[772.31,0.52],[772.71,-1.09],[773.06,-1.09],[773.28,-1.20],[773.72,-1.92],[774.33,-1.25],[774.77,-1.43],[775.21,-1.30],[775.65,-1.72],[776.26,-0.86],[777.14,-1.43],[778.02,-1.57],[778.95,-0.66],[779.86,-1.04],[780.74,-0.88],[781.61,-0.64],[782.53,-0.27],[783.54,0.97],[784.39,1.81],[785.26,1.38],[786.18,2.08],[786.96,1.49],[787.40,0.32],[788.07,-0.53],[788.72,0.65],[789.42,0.13],[790.39,-0.84],[791.18,1.31],[791.44,0.19],[791.82,-0.32],[792.58,0.84],[793.81,0.84],[795.04,-0.71],[795.51,0.84],[796.00,0.32],[797.40,-0.05],[797.75,0.19],[798.19,1.38],[798.95,-0.81],[799.44,1.01],[800.24,0.49]];

// ---------------- STYLE / LAYOUT ----------------
const stageFill = ["#80b9f5","#fffcb4","#fffcb4","#feeaa8","#80b9f5"];
const C = {blue:"#0072bd", red:"#d95319", gold:"#edb120", purple:"#8a2be2", cyan:"#16bdf2", orange:"#ff8c00", green:"#3cb371"};
const SANS = "'Liberation Sans', Arial, Helvetica, sans-serif";
const TICKF = "'Noto Sans', 'Open Sans', sans-serif";
const AX = "#222";

const svg = d3.select("#chart");
svg.append("rect").attr("width",1944).attr("height",1930).attr("fill","#fff");
const x = d3.scaleLinear().domain([750,810]).range([105.5,1631]);
const BAR_Y0 = 1, BAR_Y1 = 57, LINES_BOTTOM = 1819.3;

const panels = [
  {label:"a)", dom:[-5,5], rng:[93.3,345.7], yTop:91.7, xAxisY:345.7, ticks:[-5,0,5], labelY:107.5,
   series:[{d:pc1,c:C.blue},{d:pc2,c:C.red},{d:pc3,c:C.gold}],
   legend:{y:81.7,w:236,h:172.3,rows:[120,171,221.7], items:[
     {c:C.blue, parts:[{t:"PC1"}], fs:33},{c:C.red, parts:[{t:"PC2"}], fs:33},{c:C.gold, parts:[{t:"PC3"}], fs:33}]}},
  {label:"b)", dom:[2,-5], rng:[466.7,715.5], yTop:461.7, xAxisY:715.5, ticks:[2,0,-2,-4], labelY:462.5,
   series:[{d:didymocyrtis,c:C.orange},{d:fProfunda,c:C.cyan},{d:umbilicosphaera,c:C.purple}],
   legend:{y:457,w:526,h:172,rows:[492.4,543.8,595], items:[
     {c:C.purple, parts:[{t:"Umbilicosphaera",i:1},{t:" spp."}]},
     {c:C.cyan, parts:[{t:"F. profunda",i:1}]},
     {c:C.orange, parts:[{t:"Didymocyrtis",i:1},{t:" spp."}]}]}},
  {label:"c)", dom:[4,-2], rng:[826.9,1080.4], yTop:826.9, xAxisY:1080.4, ticks:[4,2,0,-2], labelY:846,
   series:[{d:lSetosa,c:C.orange},{d:helicosphaera,c:C.cyan},{d:cPelagicus,c:C.purple}],
   legend:{y:806,w:526,h:171,rows:[842,893,944], items:[
     {c:C.purple, parts:[{t:"C. pelagicus braarudii",i:1}]},
     {c:C.cyan, parts:[{t:"Helicosphaera",i:1},{t:" spp."}]},
     {c:C.orange, parts:[{t:"L. setosa",i:1}]}]}},
  {label:"d)", dom:[2,-2], rng:[1212.1,1437.1], yTop:1197.4, xAxisY:1449.6, ticks:[2,0,-2], labelY:1154,
   series:[{d:gInflataMgCa,c:C.green},{d:dictyocoryne,c:C.purple}],
   legend:{y:1167,w:526,h:140,rows:[1204.7,1255.6], items:[
     {c:C.green, parts:[{t:"G. inflata",i:1},{t:" Mg/Ca"}]},
     {c:C.purple, parts:[{t:"Dictyocoryne",i:1},{t:" spp."}]}]}},
  {label:"e)", dom:[2,-2], rng:[1600.7,1806], yTop:1565, xAxisY:1819.3, ticks:[2,0,-2], labelY:1539.5,
   series:[{d:d13cInfBul,c:C.gold,w:1.8},{d:sResurgens,c:C.cyan},{d:cLeptoporus,c:C.purple}],
   legend:{y:1543,w:526,h:172,rows:[1581.7,1631.4,1682.7], items:[
     {c:C.gold, delta:true},
     {c:C.cyan, parts:[{t:"S. resurgens",i:1}]},
     {c:C.purple, parts:[{t:"C. leptoporus",i:1},{t:" (y-axis reversed)",fs:28}]}]}}
];

// ---- stage bar ----
const gBar = svg.append("g");
stageNames.forEach((s,i)=>{
  gBar.append("rect").attr("x",x(stageFrom[i])).attr("y",BAR_Y0).attr("width",x(stageTo[i])-x(stageFrom[i]))
    .attr("height",BAR_Y1-BAR_Y0).attr("fill",stageFill[i]).attr("stroke","#1c1c30").attr("stroke-width",2);
  gBar.append("text").attr("x",x(stageTextAt[i])).attr("y",42.5).attr("text-anchor","middle")
    .attr("font-family",SANS).attr("font-size",36).attr("fill","#000").text(s);
});

// ---- boundary lines ----
const gLines = svg.append("g");
boundaryAges.forEach(a=>{
  gLines.append("line").attr("x1",x(a)).attr("x2",x(a)).attr("y1",BAR_Y1).attr("y2",LINES_BOTTOM)
    .attr("stroke","#9a9a9a").attr("stroke-width",1.7);
});
// white masks behind x tick labels
const gMask = svg.append("g");
panels.forEach(p=>{
  xMajorTicks.forEach(t=>{
    gMask.append("rect").attr("x",x(t)-38).attr("y",p.xAxisY+3).attr("width",76).attr("height",45).attr("fill","#fff");
  });
});
// ---- bands ----
const gBands = svg.append("g");
warmBands.forEach(b=>gBands.append("rect").attr("x",x(b[0])).attr("width",x(b[1])-x(b[0]))
  .attr("y",BAR_Y1+1).attr("height",LINES_BOTTOM-BAR_Y1-1).attr("fill","#fbe8c9"));
coolBands.forEach(b=>gBands.append("rect").attr("x",x(b[0])).attr("width",x(b[1])-x(b[0]))
  .attr("y",BAR_Y1+1).attr("height",LINES_BOTTOM-BAR_Y1-1).attr("fill","#e4e4e4"));

// ---- panels ----
panels.forEach(p=>{
  const y = d3.scaleLinear().domain(p.dom).range(p.rng);
  const g = svg.append("g");
  const line = d3.line().x(d=>x(d[0])).y(d=>y(d[1]));
  p.series.forEach(s=>{
    g.append("path").datum(s.d).attr("d",line).attr("fill","none").attr("stroke",s.c)
      .attr("stroke-width",s.w||2.2).attr("stroke-linejoin","round");
  });
  const minor = d3.range(751,810).filter(v=>v%10!==0);
  const gx1 = g.append("g").attr("transform",`translate(0,${p.xAxisY})`)
    .call(d3.axisBottom(x).tickValues(minor).tickSize(-13).tickFormat(""));
  gx1.select(".domain").remove();
  gx1.selectAll("line").attr("stroke",AX).attr("stroke-width",2);
  const gx2 = g.append("g").attr("transform",`translate(0,${p.xAxisY})`)
    .call(d3.axisBottom(x).tickValues(xMajorTicks).tickSize(-16).tickPadding(18).tickFormat(d=>String(d)));
  gx2.select(".domain").remove();
  gx2.selectAll("line").attr("stroke",AX).attr("stroke-width",2);
  gx2.attr("font-size",36).attr("font-family",TICKF);
  gx2.selectAll("text").attr("fill","#222");
  const gy = g.append("g").attr("transform",`translate(${x(750)},0)`)
    .call(d3.axisLeft(y).tickValues(p.ticks).tickSize(-15).tickPadding(14).tickFormat(d=>String(d)));
  gy.select(".domain").remove();
  gy.selectAll("line").attr("stroke",AX).attr("stroke-width",2);
  gy.attr("font-size",36).attr("font-family",TICKF);
  // labels sit a few px above their ticks; the one on the x axis sits higher
  gy.selectAll("text").attr("fill","#222").attr("dy", d => (Math.abs(y(d)-p.xAxisY) < 1 ? "0.06em" : "0.18em"));
  g.append("line").attr("x1",x(750)).attr("x2",x(810)).attr("y1",p.xAxisY).attr("y2",p.xAxisY).attr("stroke",AX).attr("stroke-width",2.5);
  g.append("line").attr("x1",x(750)).attr("x2",x(750)).attr("y1",p.yTop).attr("y2",p.xAxisY+1.2).attr("stroke",AX).attr("stroke-width",2.5);
  g.append("text").attr("x",140).attr("y",p.labelY).attr("font-family",SANS).attr("font-size",36).attr("fill","#000").text(p.label);
  // legend
  const L = p.legend;
  const gl = svg.append("g");
  gl.append("rect").attr("x",1416).attr("y",L.y).attr("width",L.w).attr("height",L.h).attr("fill","#fff").attr("stroke","#333").attr("stroke-width",2);
  L.items.forEach((it,i)=>{
    const yy = L.rows[i];
    gl.append("line").attr("x1",1431).attr("x2",1485).attr("y1",yy).attr("y2",yy).attr("stroke",it.c).attr("stroke-width",2.2);
    const t = gl.append("text").attr("x",1505).attr("y",yy+12).attr("font-family",SANS).attr("font-size",it.fs||35).attr("fill","#000");
    if (it.delta) {
      t.attr("y",yy+9);
      t.append("tspan").text("Δδ");
      t.append("tspan").attr("font-size",19).attr("dy",-13).text("13");
      t.append("tspan").attr("dy",13).text("C");
      t.append("tspan").attr("font-size",21).attr("dy",10).attr("dx",6).text("inf-bul");
    } else {
      it.parts.forEach(pt=>{
        const ts = t.append("tspan").text(pt.t);
        if (pt.i) ts.attr("font-style","italic");
        if (pt.fs) ts.attr("font-size",pt.fs);
      });
    }
  });
});

// ---- texts ----
svg.append("text").attr("transform","translate(36,210) rotate(-90)").attr("text-anchor","middle")
  .attr("font-family",SANS).attr("font-size",39).attr("fill","#222").text("Score");
svg.append("text").attr("x",866).attr("y",1919).attr("text-anchor","middle")
  .attr("font-family",SANS).attr("font-size",40).attr("fill","#222").text("Age (ka)");
const ydX = x(789.9);
svg.append("text").attr("x",ydX).attr("y",83).attr("text-anchor","middle").attr("font-family",TICKF).attr("font-size",25).attr("fill","#000").text("YD-type");
svg.append("text").attr("x",ydX).attr("y",116).attr("text-anchor","middle").attr("font-family",TICKF).attr("font-size",25).attr("fill","#000").text("cooling events");
</script>
</body></html>
